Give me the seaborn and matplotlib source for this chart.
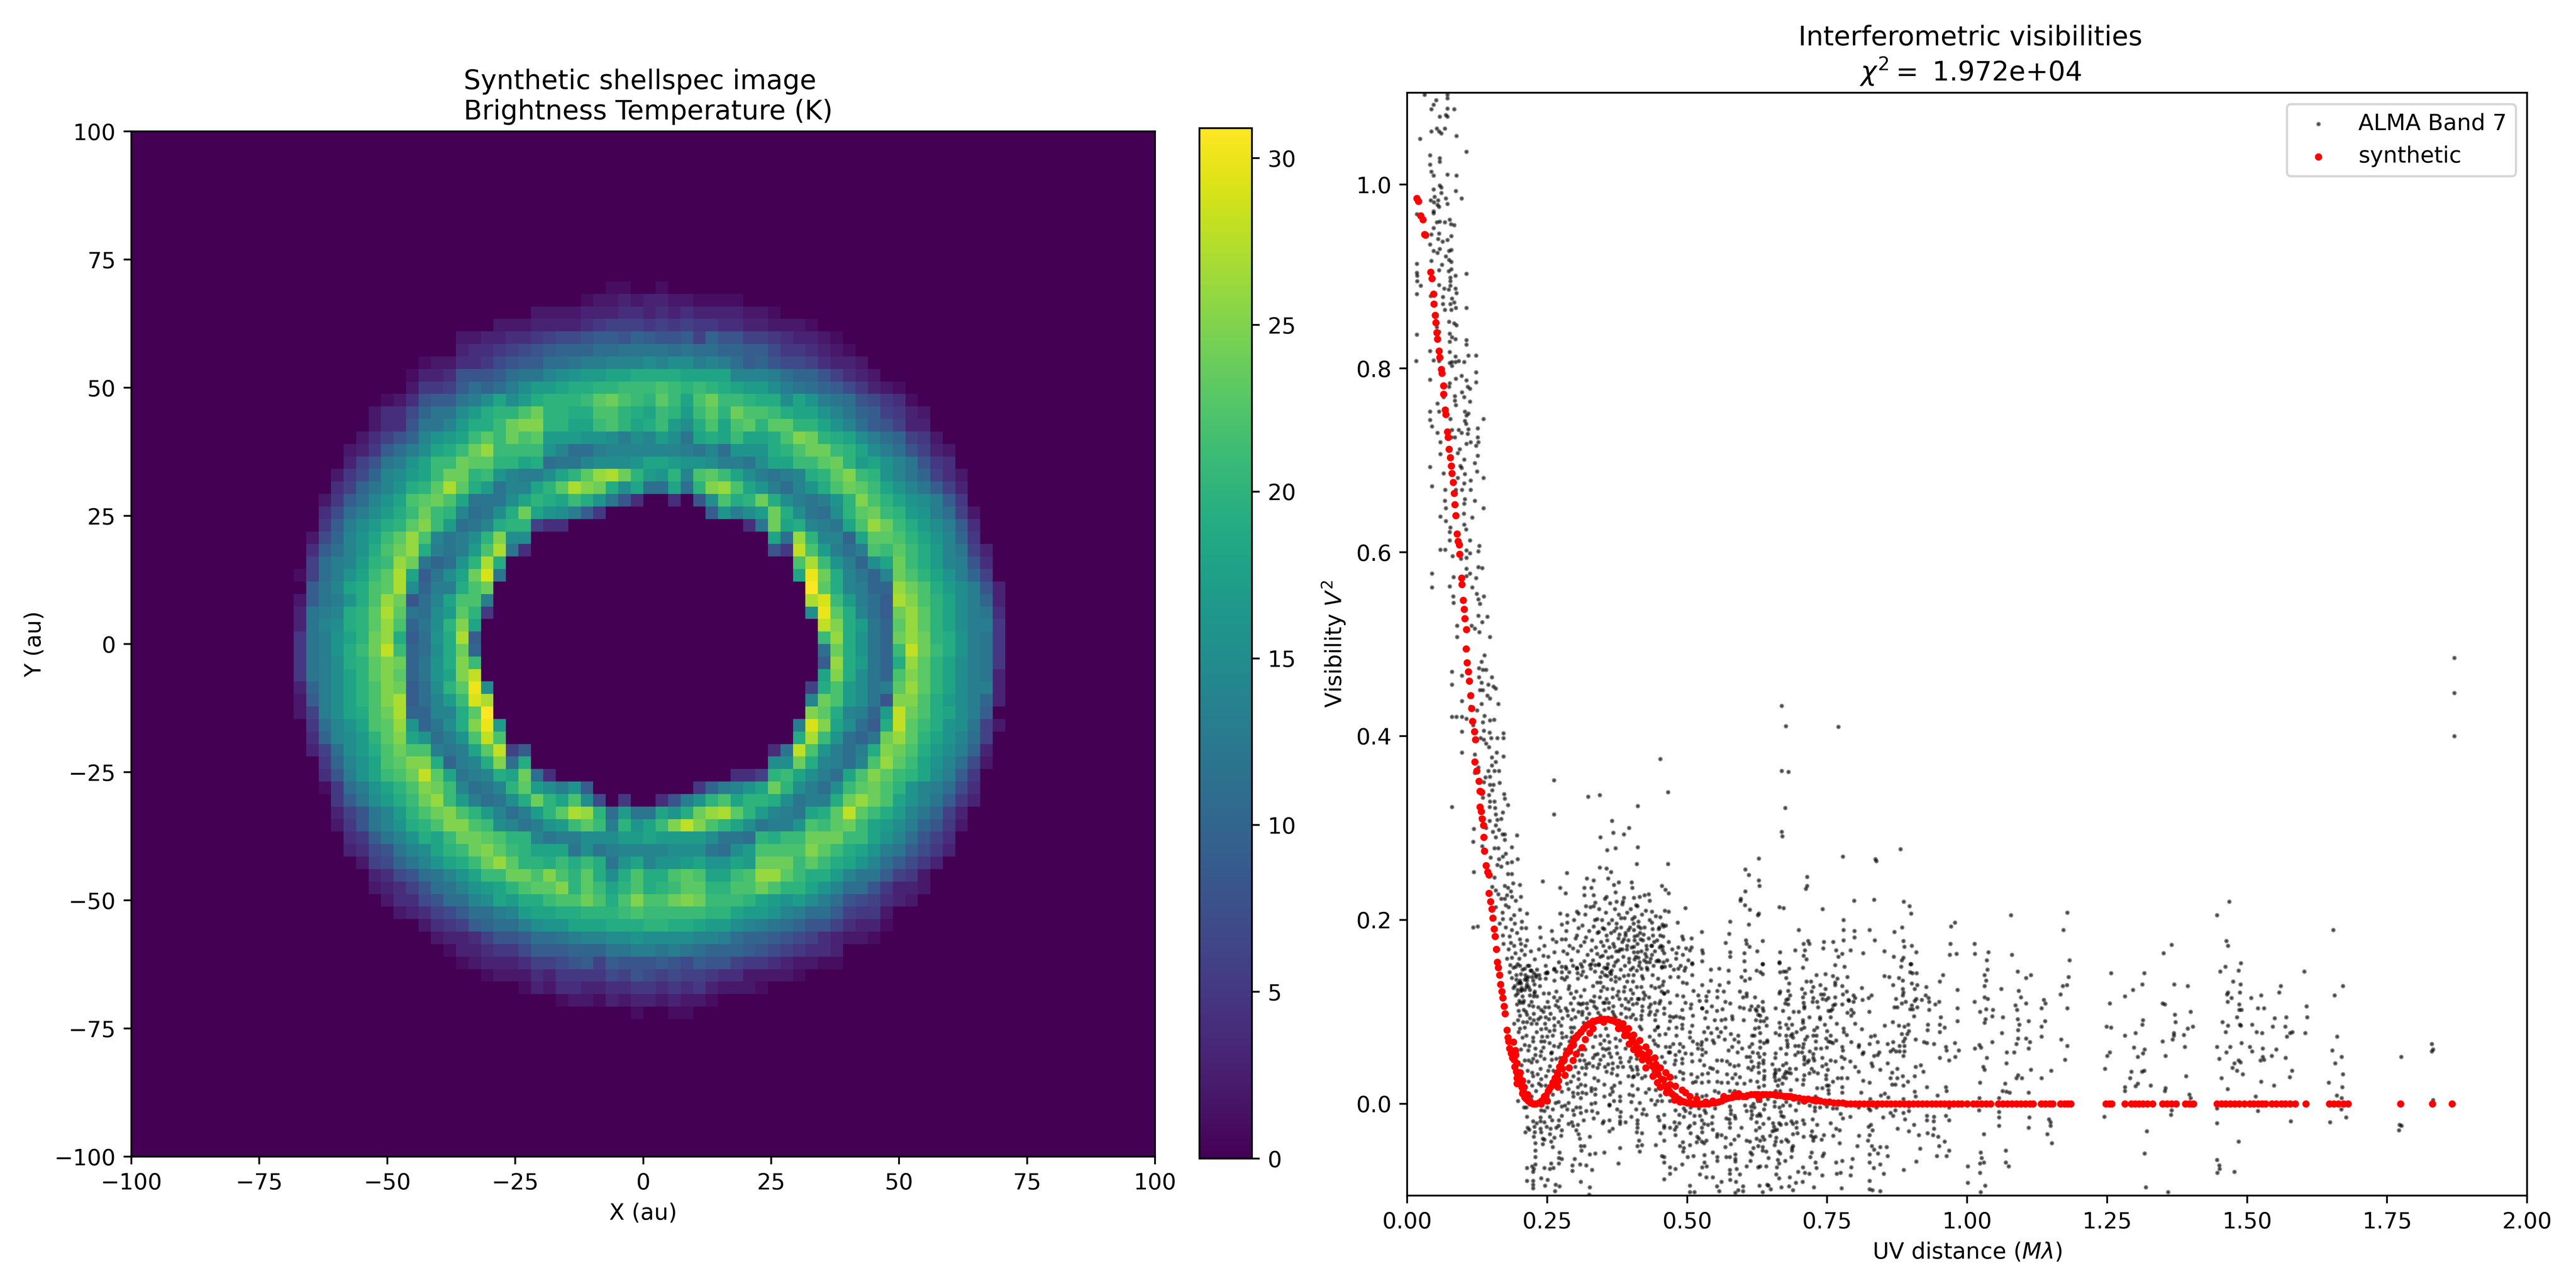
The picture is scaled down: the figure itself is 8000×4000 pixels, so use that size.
import matplotlib
matplotlib.use("Agg")
import matplotlib.pyplot as plt
import numpy as np
import seaborn as sns

# brightness temperature: (row from top, first column, values)
# the grid is 82 x 82 cells, everything not listed is 0
tb_segments = [
    (12, 38, [1, 1, 0, 0, 1]),
    (13, 36, [1, 2, 2, 3, 2, 3, 3, 2, 2, 1, 1, 1, 1]),
    (14, 32, [2, 2, 2, 2, 3, 3, 3, 4, 4, 3, 4, 3, 4, 3, 3, 3, 3, 2, 2, 1]),
    (15, 29, [2, 2, 2, 3, 3, 3, 3, 4, 5, 6, 6, 6, 5, 6, 5, 6, 5, 5, 4, 4, 3, 3, 2, 2, 2, 1]),
    (16, 26, [2, 2, 3, 3, 4, 4, 5, 6, 7, 7, 8, 9, 9, 8, 10, 9, 8, 8, 9, 6, 10, 8, 8, 6, 6, 5, 4, 3, 3, 2, 1]),
    (17, 26, [3, 4, 4, 5, 6, 7, 8, 9, 10, 10, 10, 11, 11, 12, 12, 12, 12, 11, 12, 11, 11, 10, 10, 9, 9, 7, 5, 5, 4, 3, 2, 1]),
    (18, 23, [1, 2, 2, 4, 4, 5, 7, 8, 9, 9, 11, 11, 12, 13, 13, 14, 14, 14, 15, 14, 15, 15, 13, 14, 13, 11, 9, 10, 8, 7, 7, 6, 4, 3, 3, 2]),
    (19, 22, [1, 3, 3, 4, 8, 8, 8, 9, 11, 12, 12, 14, 15, 16, 17, 17, 18, 18, 19, 19, 19, 19, 18, 18, 18, 18, 14, 14, 14, 13, 11, 10, 10, 8, 6, 4, 3, 2]),
    (20, 22, [2, 5, 5, 6, 9, 11, 10, 11, 13, 15, 17, 17, 18, 19, 19, 20, 20, 21, 21, 21, 22, 21, 20, 21, 20, 19, 18, 17, 17, 15, 13, 12, 11, 10, 9, 7, 5, 3, 2, 1]),
    (21, 20, [1, 2, 4, 8, 9, 9, 12, 13, 15, 18, 15, 17, 19, 20, 20, 20, 21, 23, 24, 22, 21, 20, 23, 21, 18, 22, 24, 21, 21, 20, 19, 19, 15, 18, 16, 13, 12, 11, 8, 7, 5, 4, 1]),
    (22, 19, [2, 4, 4, 7, 10, 12, 12, 15, 17, 19, 20, 20, 22, 24, 20, 20, 19, 19, 22, 22, 20, 19, 18, 21, 20, 17, 21, 23, 20, 24, 22, 22, 21, 19, 18, 18, 16, 14, 12, 10, 9, 6, 5, 3, 2]),
    (23, 19, [2, 4, 4, 8, 12, 12, 14, 17, 19, 19, 21, 24, 25, 25, 20, 20, 18, 18, 21, 22, 20, 18, 19, 21, 17, 15, 19, 22, 18, 22, 23, 20, 23, 23, 20, 20, 18, 16, 14, 11, 9, 8, 6, 3, 3]),
    (24, 18, [2, 4, 6, 8, 10, 14, 16, 17, 18, 21, 23, 21, 24, 22, 23, 17, 17, 17, 16, 16, 15, 13, 15, 14, 17, 15, 12, 18, 19, 18, 21, 18, 18, 19, 22, 25, 24, 20, 19, 18, 15, 13, 11, 10, 6, 5, 2]),
    (25, 17, [2, 3, 5, 9, 11, 13, 15, 18, 19, 21, 24, 26, 21, 21, 21, 21, 16, 14, 11, 11, 13, 14, 14, 14, 14, 14, 14, 13, 12, 14, 11, 16, 16, 16, 19, 20, 22, 24, 24, 21, 20, 18, 15, 13, 11, 8, 6, 3, 2]),
    (26, 17, [3, 6, 8, 12, 13, 16, 18, 21, 21, 24, 23, 23, 20, 20, 18, 19, 11, 12, 12, 14, 15, 15, 15, 16, 18, 18, 17, 16, 16, 15, 13, 13, 12, 15, 18, 18, 21, 21, 23, 24, 20, 17, 18, 16, 14, 12, 8, 5, 4]),
    (27, 16, [2, 5, 7, 10, 14, 15, 17, 18, 21, 24, 24, 20, 21, 16, 14, 13, 13, 15, 18, 20, 23, 26, 27, 24, 20, 17, 16, 20, 14, 22, 23, 21, 18, 15, 13, 12, 13, 14, 19, 20, 23, 25, 21, 20, 16, 14, 12, 10, 6, 4, 2]),
    (28, 16, [4, 6, 10, 12, 14, 16, 19, 20, 23, 27, 23, 19, 17, 12, 14, 14, 18, 20, 23, 27, 25, 24, 19, 15, 18, 11, 11, 18, 11, 20, 25, 26, 22, 18, 16, 13, 11, 14, 16, 19, 22, 24, 23, 21, 18, 16, 14, 12, 9, 6, 3]),
    (29, 15, [2, 5, 9, 11, 14, 16, 18, 22, 23, 24, 22, 18, 12, 12, 12, 15, 18, 20, 19, 18, 21, 19, 16, 12, 8, 4]),
    (29, 43, [4, 0, 8, 15, 22, 19, 20, 24, 19, 15, 13, 12, 13, 16, 20, 25, 22, 20, 18, 16, 15, 13, 9, 5]),
    (30, 15, [4, 7, 11, 13, 15, 17, 19, 21, 24, 21, 20, 14, 11, 12, 15, 19, 24, 18, 16, 15, 13, 9, 5]),
    (30, 46, [9, 16, 13, 15, 17, 24, 19, 15, 12, 11, 15, 20, 23, 24, 21, 20, 17, 16, 13, 11, 6, 2]),
    (31, 15, [5, 9, 13, 15, 17, 19, 20, 23, 25, 21, 17, 11, 12, 14, 19, 20, 20, 6, 4, 4]),
    (31, 49, [4, 12, 24, 18, 19, 14, 13, 12, 18, 22, 26, 24, 21, 19, 17, 15, 13, 9, 4]),
    (32, 14, [2, 7, 10, 14, 16, 18, 21, 23, 26, 22, 14, 12, 13, 15, 20, 25, 15, 15]),
    (32, 51, [18, 11, 26, 20, 14, 14, 10, 18, 23, 23, 22, 20, 18, 16, 14, 10, 5]),
    (33, 14, [4, 9, 11, 14, 16, 19, 22, 24, 26, 19, 13, 12, 13, 17, 22, 27, 12, 4]),
    (33, 51, [8, 5, 28, 22, 17, 13, 11, 13, 22, 21, 23, 21, 19, 17, 14, 12, 6, 3]),
    (34, 14, [6, 11, 13, 14, 17, 20, 21, 26, 24, 12, 10, 11, 16, 20, 27, 19]),
    (34, 53, [22, 27, 21, 16, 13, 10, 15, 18, 24, 21, 19, 17, 14, 13, 8, 4]),
    (35, 13, [1, 6, 11, 13, 16, 18, 21, 23, 27, 18, 9, 12, 15, 18, 24, 29, 12]),
    (35, 53, [18, 30, 24, 19, 14, 12, 10, 14, 24, 22, 20, 18, 16, 13, 10, 6]),
    (36, 14, [9, 12, 14, 18, 19, 22, 23, 27, 15, 10, 13, 13, 19, 22, 24]),
    (36, 54, [31, 23, 19, 14, 13, 10, 10, 26, 24, 22, 19, 17, 15, 13, 8, 3]),
    (37, 13, [2, 9, 12, 13, 16, 19, 22, 26, 24, 8, 11, 14, 18, 22, 22, 13]),
    (37, 54, [27, 29, 21, 17, 13, 11, 9, 27, 25, 22, 20, 18, 15, 13, 10, 3]),
    (38, 13, [3, 12, 13, 14, 19, 20, 23, 27, 23, 12, 11, 15, 17, 23, 20, 5]),
    (38, 54, [15, 30, 23, 19, 14, 11, 9, 24, 26, 23, 20, 18, 15, 13, 12, 4]),
    (39, 13, [3, 12, 14, 15, 19, 20, 23, 26, 22, 10, 12, 15, 20, 25, 18]),
    (39, 55, [28, 25, 19, 17, 12, 10, 23, 26, 23, 20, 18, 15, 13, 13, 5]),
    (40, 13, [5, 12, 13, 16, 18, 20, 24, 26, 19, 9, 11, 16, 19, 27, 9]),
    (40, 55, [21, 26, 19, 16, 12, 10, 24, 26, 24, 20, 19, 16, 13, 12, 5]),
    (41, 13, [5, 12, 13, 16, 19, 21, 24, 28, 21, 10, 11, 15, 19, 24, 10]),
    (41, 55, [11, 24, 19, 16, 12, 10, 21, 28, 24, 21, 19, 16, 13, 12, 5]),
    (42, 13, [5, 12, 13, 15, 19, 20, 23, 25, 24, 10, 12, 16, 19, 25, 21]),
    (42, 55, [9, 26, 19, 17, 12, 10, 19, 26, 23, 20, 18, 15, 13, 12, 5]),
    (43, 13, [5, 12, 13, 15, 18, 20, 23, 25, 23, 10, 12, 16, 18, 25, 28]),
    (43, 55, [18, 25, 19, 15, 12, 10, 22, 25, 23, 20, 18, 15, 13, 12, 3]),
    (44, 13, [3, 10, 13, 15, 18, 20, 22, 25, 24, 9, 11, 15, 20, 23, 30, 15]),
    (44, 54, [6, 19, 22, 17, 15, 12, 13, 23, 26, 23, 20, 18, 15, 13, 13, 3]),
    (45, 13, [2, 9, 13, 15, 18, 20, 22, 25, 27, 9, 11, 14, 17, 21, 29, 27]),
    (45, 54, [14, 24, 22, 17, 15, 12, 8, 25, 25, 22, 19, 17, 15, 13, 10, 3]),
    (46, 13, [2, 6, 13, 15, 18, 19, 22, 24, 27, 10, 10, 14, 14, 19, 23, 31]),
    (46, 54, [25, 23, 19, 14, 13, 10, 17, 28, 24, 22, 19, 18, 15, 13, 9]),
    (47, 14, [5, 11, 14, 16, 18, 22, 23, 26, 16, 10, 12, 15, 19, 25, 30, 17]),
    (47, 53, [13, 29, 25, 18, 15, 11, 9, 19, 28, 23, 21, 19, 16, 15, 12, 6, 2]),
    (48, 14, [4, 10, 14, 15, 17, 20, 23, 25, 18, 16, 11, 13, 16, 22, 28, 22]),
    (48, 53, [19, 27, 21, 16, 11, 10, 12, 24, 26, 23, 20, 18, 16, 14, 11, 6]),
    (49, 14, [3, 6, 11, 15, 17, 19, 22, 24, 22, 22, 13, 12, 13, 18, 23, 28, 6, 9]),
    (49, 51, [4, 12, 28, 22, 16, 13, 11, 13, 19, 25, 24, 22, 19, 17, 15, 13, 10, 3]),
    (50, 15, [5, 10, 14, 16, 18, 22, 23, 25, 25, 19, 10, 13, 14, 19, 25, 11, 19]),
    (50, 51, [15, 15, 24, 19, 14, 13, 11, 14, 22, 26, 23, 21, 18, 16, 14, 11, 7, 2]),
    (51, 15, [4, 8, 13, 16, 18, 21, 22, 24, 28, 23, 18, 12, 13, 14, 19, 18, 24, 11, 4]),
    (51, 48, [4, 4, 6, 20, 21, 18, 15, 13, 11, 18, 22, 25, 23, 21, 20, 18, 15, 13, 9, 5]),
    (52, 15, [1, 5, 11, 13, 16, 18, 20, 22, 25, 24, 21, 14, 11, 12, 14, 20, 23, 17, 15, 13, 16, 9]),
    (52, 45, [5, 10, 13, 14, 16, 18, 24, 20, 15, 13, 11, 15, 21, 23, 24, 22, 20, 16, 14, 13, 11, 7, 4]),
    (53, 16, [5, 9, 12, 15, 17, 19, 21, 24, 26, 21, 17, 13, 11, 12, 15, 19, 24, 20, 18, 22, 15, 7, 0, 5]),
    (53, 42, [4, 8, 13, 16, 20, 22, 18, 20, 20, 19, 15, 12, 13, 13, 19, 24, 26, 24, 22, 18, 16, 14, 12, 9, 5, 3]),
    (54, 16, [3, 6, 8, 12, 14, 17, 20, 22, 24, 25, 22, 20, 17, 14, 11, 13, 17, 20, 23, 27, 26, 20, 11, 17, 12, 12, 18, 16, 19, 24, 26, 27, 23, 20, 17, 14, 13, 12, 18, 19, 23, 28, 23, 21, 19, 17, 14, 12, 10, 6, 3]),
    (55, 16, [2, 5, 8, 12, 14, 16, 19, 20, 22, 25, 25, 22, 21, 15, 14, 12, 13, 16, 17, 21, 23, 21, 13, 20, 16, 18, 21, 25, 28, 25, 22, 20, 18, 15, 12, 13, 13, 16, 22, 21, 23, 24, 21, 18, 17, 15, 13, 10, 8, 5, 2]),
    (56, 17, [4, 5, 9, 12, 14, 16, 19, 18, 21, 24, 24, 23, 22, 20, 20, 14, 12, 13, 13, 15, 15, 15, 17, 17, 18, 17, 17, 17, 17, 15, 12, 12, 11, 20, 19, 21, 21, 24, 24, 24, 21, 21, 18, 16, 14, 11, 8, 6, 4]),
    (57, 17, [3, 4, 7, 8, 12, 14, 15, 18, 20, 21, 24, 25, 23, 21, 20, 18, 18, 18, 12, 15, 12, 13, 14, 14, 14, 14, 15, 15, 15, 12, 11, 15, 17, 22, 22, 22, 22, 25, 23, 21, 19, 18, 16, 13, 12, 9, 7, 5, 3]),
    (58, 18, [2, 6, 7, 10, 12, 14, 16, 18, 19, 21, 24, 26, 23, 20, 20, 19, 21, 19, 21, 19, 12, 16, 18, 14, 16, 16, 17, 18, 16, 16, 18, 17, 24, 24, 24, 21, 23, 21, 19, 18, 16, 14, 11, 9, 7, 5, 3]),
    (59, 19, [3, 4, 7, 8, 11, 12, 14, 16, 18, 21, 21, 24, 24, 22, 25, 22, 20, 23, 19, 15, 19, 22, 19, 19, 22, 23, 22, 18, 18, 21, 22, 26, 26, 23, 21, 19, 19, 17, 14, 12, 12, 9, 6, 5, 2]),
    (60, 19, [2, 3, 4, 6, 8, 11, 12, 14, 16, 17, 18, 20, 22, 23, 23, 25, 20, 23, 21, 18, 20, 22, 19, 20, 21, 23, 23, 20, 20, 22, 22, 24, 22, 20, 20, 18, 16, 14, 11, 11, 8, 5, 3, 3, 2]),
    (61, 20, [2, 4, 4, 7, 8, 11, 11, 14, 15, 18, 17, 19, 19, 21, 22, 22, 24, 22, 19, 22, 25, 22, 22, 24, 25, 24, 21, 21, 21, 20, 18, 17, 16, 17, 15, 13, 11, 8, 7, 6, 4, 3, 2]),
    (62, 21, [2, 3, 4, 6, 7, 9, 11, 11, 13, 14, 17, 18, 18, 19, 19, 20, 20, 20, 21, 22, 21, 21, 21, 21, 21, 20, 20, 18, 17, 17, 16, 14, 13, 11, 11, 9, 6, 5, 5, 2]),
    (63, 23, [2, 4, 5, 6, 9, 10, 11, 11, 13, 15, 16, 16, 18, 18, 18, 19, 19, 19, 20, 20, 19, 19, 18, 17, 17, 15, 14, 13, 12, 11, 10, 8, 8, 6, 4, 3, 3, 1]),
    (64, 24, [2, 3, 3, 4, 6, 8, 8, 9, 11, 11, 12, 13, 14, 14, 15, 15, 16, 15, 15, 15, 15, 14, 14, 13, 11, 10, 10, 9, 8, 7, 6, 4, 3, 2, 2, 1]),
    (65, 25, [1, 3, 3, 4, 5, 5, 7, 9, 9, 9, 10, 10, 10, 12, 12, 13, 13, 12, 13, 12, 11, 10, 10, 10, 9, 8, 7, 6, 5, 4, 4, 3]),
    (66, 26, [1, 2, 3, 3, 3, 4, 6, 6, 7, 8, 9, 6, 9, 8, 8, 8, 9, 8, 7, 9, 8, 8, 6, 5, 5, 4, 3, 2, 2, 1, 1]),
    (67, 28, [1, 2, 2, 2, 4, 3, 5, 5, 5, 5, 7, 6, 8, 7, 6, 7, 6, 6, 5, 4, 4, 2, 2, 2, 2, 1]),
    (68, 31, [1, 3, 2, 4, 4, 3, 3, 4, 4, 5, 5, 4, 5, 4, 5, 3, 2, 2, 2, 1]),
    (69, 34, [1, 2, 2, 1, 3, 2, 3, 3, 2, 3, 2, 2, 1]),
    (70, 40, [1, 0, 0, 1, 1]),
]

# ALMA Band 7 points, uv distance and V^2 both in units of 1e-3, pairs one after another
alma_steep = [
    31,1098, 72,1098, 52,1092, 72,1094, 47,1087, 43,1082, 72,1083, 84,1082, 58,1074, 69,1076, 72,1074, 43,1058,
    53,1061, 57,1058, 61,1056, 67,1061, 88,1053, 23,1050, 106,1036, 41,1032, 58,1029, 58,1025, 41,1022, 43,1014,
    47,1010, 72,1011, 88,1010, 47,995, 58,999, 61,997, 87,993, 61,991, 49,987, 69,985, 97,985, 42,983, 48,981,
    55,983, 54,978, 57,976, 72,979, 47,971, 17,968, 47,969, 58,960, 53,959, 67,959, 76,962, 78,957, 84,956,
    47,953, 79,944, 57,947, 43,946, 55,941, 41,935, 63,938, 72,940, 58,930, 47,928, 54,926, 75,928, 79,929,
    43,917, 69,922, 75,918, 79,916, 62,913, 79,908, 17,914, 17,904, 18,901, 57,907, 74,906, 86,901, 106,903,
    77,899, 77,895, 18,895, 24,890, 77,890, 57,891, 66,887, 74,886, 86,887, 17,881, 42,879, 88,882, 64,878,
    80,876, 84,872, 87,866, 106,866, 64,870, 67,864, 77,870, 79,864, 51,852, 75,851, 84,849, 88,847, 53,845,
    76,838, 17,837, 57,840, 80,834, 86,832, 76,829, 106,831, 106,826, 41,819, 56,819, 76,818, 109,814, 123,814,
    86,813, 16,808, 47,809, 57,808, 76,806, 86,807, 80,807, 92,808, 102,807, 80,803, 123,796, 87,789, 97,792,
    106,787, 41,788, 123,785, 76,784, 108,780, 112,778, 75,780, 98,774, 65,769, 85,770, 102,769, 54,762, 112,764,
    85,765, 87,760, 41,753, 57,753, 103,753, 109,751, 106,749, 136,745, 41,744, 77,745, 103,743, 105,740, 44,737,
    126,735, 92,733, 109,734, 80,733, 54,730, 97,730, 108,729, 126,725, 59,720, 127,720, 106,718, 113,720, 79,725,
    123,716, 85,725, 59,707, 94,712, 90,708, 126,705, 102,701, 41,693, 121,697, 65,686, 95,694, 97,692, 125,688,
    136,681, 90,681, 103,685, 113,678, 44,672, 102,675, 68,668, 113,668, 98,668, 87,668, 121,656, 103,658, 67,656,
    136,648, 69,648, 102,653, 101,642, 59,639, 116,638, 69,634, 77,627, 102,630, 105,625, 76,622, 112,613, 76,613,
    129,607, 59,603, 68,603, 106,602, 127,601, 112,599, 81,596, 96,593, 106,594, 127,584, 134,583, 106,582, 44,577,
    106,574, 123,572, 112,577, 83,573, 44,562, 76,563, 116,562, 124,555, 137,552, 82,552, 130,544, 127,549, 83,545,
    143,530, 127,531, 134,524, 89,520, 89,508, 148,508, 129,513, 115,520, 121,517, 80,470, 98,466, 133,481, 135,472,
    128,474, 141,472, 80,456, 133,458, 154,454, 145,456, 158,452, 135,450, 130,450, 148,441, 163,435, 98,438, 113,432,
    133,435, 80,421, 88,421, 98,421, 106,419, 135,415, 148,417, 118,412, 98,405, 137,406, 147,404, 172,403, 172,398,
    161,398, 150,398, 141,392, 137,396, 98,382, 121,380, 151,377, 172,378, 158,372, 151,368, 145,362, 121,360, 156,362,
    164,362, 148,356, 137,350, 154,347, 148,347, 173,337, 174,332, 148,329, 156,329, 180,325, 147,323, 80,323, 171,317,
    158,315, 147,308, 161,309, 131,311, 119,299, 158,303, 170,293, 174,293, 196,292, 158,290, 118,285, 174,287, 187,279,
    156,278, 171,269, 164,266, 197,266, 187,263, 179,262, 161,260, 119,252, 187,250, 201,238, 174,237, 178,227, 174,223,
    187,225, 203,225, 180,235, 158,232, 168,223, 214,207, 201,211, 191,205, 185,201, 171,201, 118,192, 126,193, 204,191,
    212,191, 237,192, 187,189, 171,183, 238,181, 201,179, 185,175, 191,172, 211,172, 204,167, 187,159, 184,151, 197,152,
    220,145, 211,140, 230,140, 187,137, 201,132, 214,130, 204,126, 197,120, 227,120, 214,134,
]

alma_upper = [
    669,433, 676,411, 770,410, 452,375, 466,339, 669,362, 681,361, 412,324, 675,322, 669,296, 670,291, 366,308,
    368,295, 387,293, 396,300, 372,278, 412,279, 410,261, 466,261, 628,267, 604,255, 610,249, 628,243, 629,237,
    604,231, 596,223, 595,221, 603,216, 612,211, 628,207, 626,205, 778,269, 714,247, 714,237, 712,234, 836,266,
    838,264, 881,277, 798,221, 834,222, 887,220, 897,215, 900,207, 665,214, 672,213, 742,212, 497,213, 577,198,
    610,195, 779,200, 483,197, 526,187, 699,189, 779,189, 799,188, 826,189, 870,187, 884,192, 799,181, 575,185,
    508,180, 491,182, 493,179, 605,178, 635,177, 716,177, 744,176, 761,176, 779,178, 835,178, 886,177, 569,175,
    606,174, 611,171, 708,174, 718,174, 888,171, 901,172, 743,169, 498,169, 505,167, 527,167, 528,164, 481,164,
    577,165, 577,160, 602,164, 625,166, 666,165, 693,167, 710,167, 766,167, 792,167, 814,164, 852,166, 909,165,
    777,163, 770,160, 708,161, 713,157, 869,160, 886,159, 883,156, 527,155, 509,153, 602,155, 635,152, 665,154,
    900,152, 401,241, 402,235, 378,241, 369,238, 455,237, 461,233, 467,229, 431,228, 424,227, 415,225, 405,224,
    387,224, 433,221, 411,215, 372,230, 374,220, 384,217, 437,209, 460,210, 467,209, 452,203, 406,203, 402,201,
    382,202, 437,197, 456,195, 458,193, 413,193, 417,191, 449,190, 405,189, 395,189, 374,191, 422,184, 439,183,
    452,183, 411,183, 390,183, 379,184, 441,176, 417,179, 406,178, 387,179, 427,172, 437,172, 456,171, 451,170,
    405,171, 393,172, 370,171, 456,167, 384,168, 378,166, 437,162, 425,163, 412,165, 405,165, 427,160, 413,159,
    406,157, 445,155, 450,155, 458,154, 427,154, 433,154, 396,154, 372,154, 415,154, 262,352, 262,315, 285,251,
    323,334, 344,336, 345,290, 357,276, 242,242, 321,245, 333,243, 344,257, 356,256, 359,245, 364,252, 273,235,
    283,229, 316,235, 329,235, 316,227, 333,227, 353,223, 273,207, 286,205, 303,209, 306,207, 319,215, 336,219,
    356,225, 333,215, 339,201, 349,191, 286,197, 276,195, 306,191, 276,179, 283,179, 303,183, 319,181, 333,193,
    342,187, 356,183, 260,179, 296,169, 286,163, 310,172, 329,167, 339,163, 349,161, 359,159, 263,165, 243,161,
    283,149, 303,147, 316,155, 326,151, 342,152, 356,147, 362,143, 263,147, 250,143,
]

# uv 0.19 to 0.61 below V^2 = 0.15
alma_low_a = [
    194,149, 201,150, 215,150, 210,147, 222,145, 203,141, 226,142, 236,140, 230,138, 223,138, 213,137, 210,135, 195,135,
    201,134, 237,136, 247,136, 247,142, 250,142, 263,134, 262,146, 266,144, 276,149, 276,143, 284,147, 276,137, 281,135,
    285,138, 289,143, 296,150, 304,142, 303,148, 312,149, 314,144, 311,140, 305,136, 320,138, 329,152, 328,147, 336,151,
    342,151, 335,144, 348,143, 357,148, 365,145, 364,141, 357,139, 345,138, 353,140, 372,138, 379,136, 387,139, 364,135,
    372,133, 393,133, 403,133, 395,140, 404,140, 410,145, 399,146, 418,147, 428,148, 438,140, 421,136, 419,139, 448,136,
    458,133, 460,149, 455,149, 470,138, 484,138, 484,147, 495,145, 509,152, 509,140, 492,132, 499,131, 527,129, 542,146,
    557,147, 574,145, 542,134, 558,129, 574,132, 597,138, 603,145, 603,134, 227,130, 203,131, 198,131, 213,127, 217,127,
    190,126, 197,124, 203,123, 210,124, 228,122, 244,120, 253,120, 266,122, 289,128, 288,125, 316,124, 302,122, 332,128,
    339,132, 345,132, 346,123, 350,127, 357,125, 367,125, 388,127, 410,127, 418,127, 377,122, 387,122, 399,124, 403,120,
    422,121, 436,128, 443,126, 450,127, 456,129, 454,122, 459,120, 511,123, 538,122, 554,123, 565,122, 594,122, 606,120,
    194,118, 206,117, 219,118, 226,117, 232,117, 262,116, 273,115, 292,120, 298,115, 310,117, 334,117, 344,116, 356,114,
    367,116, 379,114, 390,114, 412,114, 422,114, 432,116, 459,120, 482,118, 493,117, 520,118, 534,117, 554,116, 600,116,
    606,117, 202,110, 207,110, 222,111, 218,107, 251,111, 234,105, 246,105, 253,105, 265,107, 270,105, 292,109, 306,109,
    314,109, 321,109, 333,111, 334,106, 353,110, 360,110, 368,106, 383,107, 395,111, 403,108, 410,109, 414,114, 420,106,
    432,105, 442,110, 450,109, 459,104, 469,110, 497,110, 507,108, 506,104, 534,112, 544,106, 568,111, 577,109, 527,104,
    594,105, 601,104, 199,101, 208,102, 239,102, 243,100, 274,101, 286,101, 296,102, 306,100, 321,104, 313,100, 352,102,
    341,99, 367,100, 396,103, 403,97, 420,101, 434,100, 443,97, 446,101, 459,98, 491,102, 527,104, 535,100, 553,101,
    563,103, 201,96, 214,97, 226,98, 198,91, 219,93, 226,91, 234,92, 247,94, 253,92, 262,93, 270,89, 277,93, 287,96,
    293,92, 312,97, 321,93, 369,97, 372,94, 391,94, 399,94, 418,96, 418,92, 432,97, 443,91, 469,95, 480,95, 487,94,
    493,93, 469,90, 532,93, 549,91, 561,91, 568,92, 580,95, 581,92, 601,91, 191,87, 207,89, 214,89, 222,87, 231,87,
    246,87, 210,83, 201,82, 239,81, 254,79, 263,85, 263,80, 276,77, 292,83, 298,83, 294,78, 199,78, 213,74, 231,78,
    225,72, 241,73, 250,73, 260,74, 284,73, 277,72, 293,72, 418,81, 433,73, 442,80, 447,83, 461,76, 450,75, 467,82,
    481,83, 491,82, 509,85, 505,78, 481,74, 491,86, 530,78, 537,83, 553,82, 560,78, 568,83, 543,77, 578,76, 591,74,
    556,73, 505,72, 534,70, 546,69, 567,70, 584,70, 592,67, 510,68, 518,65, 526,67, 548,66, 225,68, 239,68, 254,66,
    274,65, 210,64, 218,63, 262,63, 336,73, 345,74, 352,69, 361,67, 345,65, 372,71, 380,69, 358,74, 440,69, 448,63,
    443,65, 462,62, 469,62, 475,65, 487,65, 493,62, 525,64, 527,59, 533,56, 519,60, 574,58, 580,62, 590,56, 598,60,
    203,59, 229,60, 239,57, 243,61, 258,56, 282,59, 318,59, 349,60, 355,59, 373,62, 469,56, 486,57, 497,55, 508,54,
    195,52, 229,53, 238,52, 245,49, 222,45, 210,47, 217,47, 225,49, 266,49, 257,55, 273,50, 312,53, 308,47, 316,47,
    320,43, 312,39, 320,39, 306,34, 332,50, 340,54, 335,53, 351,52, 364,51, 361,55, 375,55, 380,50, 381,45, 367,44,
    359,43, 353,40, 343,43, 332,41, 340,39, 356,35, 367,38, 376,40, 385,40, 396,46, 399,50, 410,49, 410,40, 399,40,
    402,37, 411,37, 365,33, 375,31, 395,30, 403,29, 412,32, 419,28, 455,51, 460,45, 467,56, 477,43, 479,53, 491,49,
    491,44, 479,47, 487,35, 493,33, 493,27, 479,29, 507,32, 509,46, 523,47, 527,53, 530,42, 541,39, 546,38, 554,35,
    553,47, 562,47, 571,46, 576,43, 584,41, 592,42, 606,51, 527,32, 518,29, 537,33, 571,32, 586,32, 594,29, 581,28,
    538,24, 554,24, 561,23, 573,23, 589,22, 602,22, 510,23, 515,24, 526,23, 198,36, 238,38, 255,41, 261,36, 223,34,
    233,32, 225,30, 239,27, 261,26, 217,24, 297,30, 292,24, 306,27, 310,21, 318,20, 334,28, 341,25, 352,21, 380,23,
    223,20, 230,14, 239,20, 247,20, 276,13, 288,16, 296,12, 305,11, 313,12, 320,11, 297,8, 310,6, 329,17, 336,16, 329,14,
    336,10, 365,17, 367,13, 362,10, 380,8, 397,10, 403,9, 402,20, 412,16, 426,12, 432,16, 444,15, 452,9, 380,3, 369,3,
    361,-1, 329,0, 336,1, 415,1, 443,-1, 469,3, 447,3, 455,3, 506,8, 517,10, 527,8, 534,9, 549,14, 556,12, 576,14, 585,14,
    198,3, 209,-4, 213,-4, 239,-7, 245,-8, 250,-4, 260,-6, 265,1, 276,-3, 286,-6, 296,-7, 302,-4, 309,-4, 288,1, 310,-10,
    330,-8, 361,-2, 375,-6, 381,-9, 380,-14, 409,-6, 422,-6, 420,-11, 427,-12, 479,-7, 494,-5, 497,-8, 505,-10, 506,-4,
    521,-5, 531,-7, 533,-10, 550,-5, 576,-3, 578,-7, 578,-11, 603,-2, 606,-8, 214,-14, 238,-15, 255,-14, 259,-18, 276,-13,
    271,-18, 225,-19, 231,-21, 238,-19, 245,-20, 294,-20, 288,-22, 305,-23, 296,-24, 215,-26, 227,-25, 218,-28, 211,-31,
    238,-27, 249,-25, 266,-26, 270,-24, 256,-27, 276,-29, 302,-29, 239,-31, 228,-31, 255,-33, 226,-36, 275,-35, 263,-37,
    306,-33, 308,-38, 242,-38, 245,-39, 257,-41, 229,-43, 242,-44, 260,-47, 326,-36, 310,-46, 316,-46, 311,-51, 229,-51,
    272,-53, 326,-55, 336,-54, 352,-53, 229,-58, 271,-59, 276,-60, 299,-60, 271,-65, 257,-65, 229,-66, 223,-68, 226,-71,
    214,-70, 245,-70, 255,-71, 261,-70, 295,-67, 309,-66, 320,-67, 295,-73, 330,-72, 377,-65, 225,-74, 239,-81, 251,-83,
    214,-84, 225,-84, 225,-88, 225,-92, 246,-89, 265,-88, 272,-90, 264,-95, 310,-85, 326,-91, 325,-99, 361,-18, 351,-19,
    349,-21, 333,-16, 380,-19, 380,-22, 367,-27, 361,-30, 400,-14, 411,-18, 411,-22, 411,-26, 410,-31, 419,-32, 414,-40,
    411,-46, 419,-45, 415,-52, 380,-48, 444,-45, 448,-14, 450,-18, 459,-12, 459,-26, 459,-24, 452,-32, 459,-40, 477,-20,
    469,-26, 478,-28, 481,-25, 486,-12, 494,-14, 486,-21, 479,-34, 505,-24, 502,-26, 506,-32, 513,-21, 513,-13, 523,-13,
    526,-18, 526,-26, 530,-22, 527,-31, 518,-36, 521,-38, 517,-42, 534,-40, 526,-41, 530,-43, 487,-46, 494,-48, 492,-42,
    505,-45, 493,-52, 501,-58, 511,-57, 531,-56, 546,-53, 537,-23, 544,-21, 546,-28, 545,-14, 554,-33, 561,-34, 553,-36,
    569,-37, 584,-39, 568,-47, 578,-44, 592,-35, 570,-16, 575,-17, 576,-21, 576,-26, 585,-13, 586,-16, 597,-26, 606,-40,
    554,-58, 554,-62, 570,-58, 576,-58, 586,-55, 586,-60, 586,-63, 459,-58, 455,-57, 459,-64, 469,-69, 479,-71, 491,-66,
    469,-76, 459,-82, 531,-64, 535,-68, 527,-69, 523,-77, 534,-80, 546,-80, 576,-72, 576,-76, 588,-71, 594,-77, 577,-83,
    587,-85, 561,-85, 505,-89, 505,-96, 513,-96, 553,-90, 557,-95, 586,-97, 591,-94, 600,-90, 600,-95, 606,-68,
]

# uv 0.61 to 0.94 below V^2 = 0.15
alma_low_b = [
    635,152, 665,153, 624,145, 631,143, 635,141, 666,143, 672,144, 677,144, 682,147, 707,148, 764,151, 781,149, 882,149,
    899,152, 898,143, 902,142, 910,142, 852,139, 861,138, 878,137, 885,134, 731,140, 747,141, 760,139, 768,136, 786,138,
    612,136, 677,137, 713,133, 721,133, 901,131, 911,129, 682,131, 738,129, 764,132, 764,129, 777,128, 868,129, 927,127,
    812,126, 705,125, 725,127, 747,125, 906,125, 885,125, 680,123, 666,122, 665,120, 722,122, 710,120, 785,122, 886,121,
    885,118, 684,118, 739,119, 744,119, 778,119, 797,118, 829,118, 926,118, 931,115, 621,116, 707,116, 725,115, 742,114,
    752,115, 764,116, 800,115, 824,115, 873,114, 909,114, 919,113, 680,114, 677,113, 748,113, 788,113, 635,111, 724,111,
    732,111, 789,112, 813,113, 797,111, 906,112, 932,111, 890,111, 708,110, 675,109, 680,108, 764,108, 777,108, 883,109,
    901,107, 709,106, 761,107, 627,106, 622,103, 615,106, 635,104, 658,104, 734,105, 709,104, 870,105, 875,105, 898,103,
    903,103, 911,105, 612,102, 636,101, 671,101, 624,101, 690,100, 699,100, 752,101, 756,101, 759,103, 793,102, 825,100,
    932,102, 627,97, 630,96, 786,99, 797,99, 793,96, 756,94, 905,95, 682,93, 718,94, 737,94, 737,92, 642,93, 623,91, 631,90,
    637,90, 707,91, 707,88, 665,88, 767,87, 800,87, 867,89, 642,85, 677,86, 687,86, 746,86, 878,85, 888,84, 895,86, 853,85,
    930,86, 621,82, 628,83, 666,83, 680,82, 709,83, 732,83, 704,81, 779,82, 812,81, 727,80, 929,80, 780,78, 750,79, 630,77,
    658,77, 665,75, 695,78, 688,76, 896,79, 893,76, 883,76, 677,74, 685,74, 616,74, 620,74, 725,74, 731,74, 756,74, 785,75,
    828,73, 835,74, 689,72, 714,73, 711,70, 748,71, 643,69, 889,71, 908,70, 630,68, 637,66, 643,67, 678,69, 730,68, 766,69,
    752,68, 756,67, 760,66, 793,67, 840,67, 868,67, 886,68, 923,67, 928,66, 616,65, 708,65, 679,65, 826,65, 858,65, 879,63,
    888,63, 807,64, 611,62, 679,62, 693,63, 699,63, 707,61, 777,62, 806,62, 630,61, 667,60, 730,60, 739,60, 749,61, 778,58,
    863,57, 868,59, 873,57, 879,57, 888,57, 617,56, 626,55, 658,55, 698,56, 705,56, 719,57, 638,54, 677,54, 693,53, 725,54,
    815,56, 813,54, 843,56, 840,53, 834,52, 886,52, 612,51, 629,51, 709,51, 725,50, 741,50, 776,51, 657,50, 781,49, 709,48,
    727,47, 717,47, 636,47, 615,46, 756,47, 765,46, 791,46, 715,45, 636,44, 628,44, 677,44, 709,43, 748,43, 829,44, 858,44,
    652,43, 671,42, 741,41, 831,41, 917,42, 908,40, 800,40, 627,40, 618,40, 615,37, 609,39, 657,37, 664,37, 694,38, 683,38,
    722,38, 777,39, 845,37, 875,38, 922,35, 751,37, 806,35, 866,34, 628,34, 638,36, 658,34, 676,35, 680,34, 685,33, 726,35,
    733,33, 718,33, 885,30, 906,30, 748,31, 656,32, 674,32, 709,31, 638,30, 656,29, 671,29, 676,28, 664,26, 637,27, 769,28,
    776,28, 786,28, 748,27, 863,28, 875,28, 696,26, 708,26, 658,25, 613,25, 625,24, 814,25, 760,24, 894,24, 670,22, 826,23,
    637,20, 662,20, 707,21, 866,21, 872,21, 886,20, 628,18, 749,20, 753,20, 928,18, 777,18, 732,17, 741,17, 752,15, 685,15,
    658,14, 666,14, 811,12, 906,13, 753,11, 777,12, 853,11, 846,9, 859,7, 908,8, 729,8, 644,5, 827,5, 886,5, 618,0, 626,3,
    631,3, 656,2, 677,2, 699,1, 614,-3, 620,-4, 639,-1, 656,-3, 665,-4, 671,-2, 684,-2, 719,-2, 728,-4, 737,-4, 749,-3,
    760,-5, 767,-5, 806,-4, 838,-4, 896,-3, 637,-6, 694,-7, 824,-5, 827,-7, 872,-7, 615,-8, 728,-8, 667,-9, 886,-10, 896,-8,
    863,-10, 774,-11, 616,-12, 629,-11, 631,-13, 625,-13, 668,-13, 672,-14, 791,-14, 850,-15, 868,-13, 928,-13, 614,-16,
    646,-16, 724,-17, 778,-16, 889,-17, 928,-18, 624,-20, 707,-18, 686,-19, 695,-20, 636,-22, 653,-21, 664,-21, 677,-22,
    689,-22, 709,-22, 756,-21, 667,-23, 732,-23, 828,-23, 905,-23, 824,-25, 655,-25, 695,-26, 629,-26, 766,-27, 876,-27,
    660,-28, 656,-29, 623,-29, 652,-30, 723,-30, 772,-29, 831,-29, 697,-32, 689,-33, 648,-35, 896,-30, 914,-34, 929,-32,
    744,-34, 826,-34, 721,-35, 729,-36, 708,-36, 725,-37, 761,-35, 807,-35, 635,-36, 659,-37, 624,-38, 630,-40, 638,-39,
    677,-39, 725,-40, 740,-39, 823,-40, 680,-41, 612,-41, 668,-41, 658,-41, 772,-43, 656,-45, 627,-46, 689,-46, 635,-47,
    687,-48, 618,-48, 804,-46, 830,-46, 845,-47, 856,-47, 916,-49, 834,-50, 635,-51, 663,-52, 687,-51, 641,-52, 722,-53,
    613,-53, 666,-54, 616,-55, 744,-54, 826,-55, 841,-54, 645,-59, 686,-58, 720,-58, 742,-57, 795,-60, 858,-57, 613,-62,
    662,-61, 675,-62, 777,-62, 909,-63, 664,-65, 729,-64, 766,-64, 826,-64, 641,-68, 630,-68, 627,-69, 660,-69, 707,-69,
    731,-70, 793,-69, 833,-70, 845,-66, 698,-74, 710,-75, 718,-76, 741,-78, 767,-76, 774,-75, 792,-78, 851,-76, 887,-72,
    659,-77, 664,-81, 683,-80, 706,-85, 694,-86, 826,-84, 629,-89, 643,-88, 645,-89, 649,-93, 668,-91, 682,-90, 689,-94,
    726,-91, 776,-92, 826,-93, 831,-94, 845,-95, 635,-96,
]

# crowded part next to the steep branch and around the bump, estimated by eye
alma_dense = [
    138,488, 128,464, 151,464, 143,444, 125,428, 138,422, 155,418, 131,398, 146,388, 160,382, 127,366, 140,355, 152,341,
    165,349, 135,333, 146,336, 157,322, 168,310, 141,300, 153,296, 164,298, 134,280, 149,268, 163,278, 176,272, 144,254,
    156,246, 168,258, 180,250, 189,240, 152,236, 163,228, 176,216, 185,231, 194,221, 158,214, 170,208, 181,214, 192,196,
    165,196, 176,192, 183,182, 196,186, 205,198, 172,174, 181,168, 193,164, 203,174, 214,178, 178,158, 190,148, 200,158,
    210,162, 221,166, 183,143, 195,140, 206,146, 218,150, 228,157, 235,168, 192,128, 205,124, 216,138, 225,134, 237,128,
    247,150, 196,108, 208,112, 219,124, 232,146,
    245,172, 252,160, 258,188, 266,176, 271,154, 279,166, 284,188, 290,172, 293,156, 298,200, 301,180, 305,166, 310,152,
    313,194, 316,176, 318,206, 322,162, 325,188, 327,214, 330,178, 332,156, 335,200, 337,170, 340,186, 343,212, 345,160,
    346,176, 348,200, 350,172, 352,148, 352,190, 354,166, 355,208, 357,178, 358,152, 360,196, 361,170, 362,218, 364,186,
    365,160, 366,200, 368,174, 369,150, 370,188, 371,212, 373,166, 374,196, 376,156, 377,180, 378,206, 380,168, 381,146,
    382,192, 384,176, 385,220, 386,160, 388,202, 389,150, 390,186, 392,168, 393,208, 395,178, 396,158, 398,192, 399,212,
    401,170, 403,148, 404,196, 406,182, 408,160, 409,216, 411,174, 413,198, 414,150, 416,186, 418,166, 419,206, 421,178,
    423,156, 424,192, 426,210, 428,168, 429,146, 431,180, 433,200, 435,158, 436,172, 438,190, 440,150, 442,166, 444,204,
    446,178, 448,156, 450,192, 453,172, 455,148, 457,182, 459,164, 462,194, 464,156, 467,176, 470,150, 473,168, 476,146,
    480,158, 484,170, 488,150, 492,162, 497,148, 502,156, 508,170,
    200,112, 212,100, 225,106, 238,94, 248,82, 256,98, 268,112, 275,85, 283,104, 290,68, 300,94, 306,58, 310,108, 315,88,
    325,98, 328,112, 332,62, 338,104, 345,96, 350,110, 355,82, 360,104, 375,118, 382,98, 390,104, 400,114, 408,92, 415,84,
    425,118, 435,108, 448,84, 452,112, 465,122, 475,94, 510,96, 522,112, 206,72, 216,58, 232,46, 245,68, 252,36, 258,48,
    270,62, 280,30, 285,22, 300,40, 305,18, 318,32, 325,44, 360,60, 370,20, 345,48, 390,60, 405,30, 425,30, 440,35, 204,42,
    215,36, 222,8, 235,22, 248,30, 260,10, 270,2, 282,-2, 298,-12, 315,-18, 320,-8, 340,-10, 352,8, 390,-20, 400,2, 436,4,
]

alma_far = [
    1078,205, 1179,208, 978,197, 971,193, 1172,189, 970,174, 1013,174, 969,162, 981,163, 1014,163, 1038,165, 1080,162,
    1035,156, 1183,156, 1036,146, 1090,144, 957,140, 1031,140, 1114,140, 1181,138, 1105,137, 951,133, 1034,134, 1031,128,
    1171,128, 1178,129, 1061,125, 983,124, 1092,123, 1167,119, 1031,116, 1037,114, 1096,116, 1137,113, 950,111, 1013,111,
    1105,109, 1140,109, 943,108, 1086,107, 1133,104, 1179,104, 983,104, 1034,103, 1046,102, 1023,100, 1089,102, 1045,95,
    1064,94, 953,94, 1033,92, 1090,92, 1110,90, 1139,90, 983,90, 1031,88, 1093,86, 951,86, 960,83, 1133,84, 1091,80,
    951,78, 1062,77, 1133,73, 1105,71, 1091,71, 1168,70, 1112,67, 1045,67, 1179,63, 1088,65, 941,65, 978,66, 962,62,
    1022,64, 1025,61, 1110,60, 1014,60, 963,58, 985,58, 1071,56, 1084,56, 979,51, 951,50, 1035,50, 968,47, 1175,48,
    1070,44, 1029,40, 1031,37, 1114,37, 1150,36, 1091,31, 1088,28, 1098,28, 1133,28, 1023,23, 1068,22, 962,18, 963,14,
    1063,14, 1070,13, 1076,12, 1110,12, 947,9, 1022,6, 1057,6, 968,-4, 1021,-7, 1057,-9, 1057,-15, 962,-13, 941,-14,
    1111,-15, 1146,-17, 968,-18, 940,-19, 1149,-20, 1149,-24, 1057,-24, 1110,-26, 941,-27, 1030,-33, 1143,-33, 939,-34,
    948,-36, 960,-41, 1151,-43, 950,-46, 968,-51, 1069,-51, 1024,-53, 946,-57, 963,-57, 1026,-59, 1030,-64, 1023,-65,
    1069,-64, 1074,-68, 1001,-68, 1023,-75, 1001,-86, 1032,-89, 1024,-96,
    1257,142, 1316,142, 1313,130, 1296,124, 1370,130, 1394,128, 1282,117, 1255,109, 1349,109, 1353,108, 1365,173, 1351,164,
    1399,100, 1371,97, 1314,91, 1313,86, 1249,84, 1257,83, 1372,89, 1403,84, 1394,82, 1301,77, 1282,74, 1369,77, 1369,74,
    1387,75, 1367,70, 1349,68, 1298,61, 1317,59, 1389,62, 1314,55, 1255,56, 1250,52, 1305,51, 1354,52, 1246,38, 1293,35,
    1316,36, 1312,35, 1391,30, 1291,28, 1305,22, 1301,19, 1282,18, 1282,14, 1328,20, 1354,17, 1353,14, 1397,10, 1399,6,
    1365,-7, 1364,-12, 1245,-14, 1321,-30, 1317,-54, 1319,-91, 1359,-96, 1401,-2,
    1446,205, 1468,220, 1463,177, 1466,172, 1489,153, 1461,149, 1452,144, 1485,145, 1602,144, 1475,133, 1488,130, 1560,128,
    1557,121, 1487,121, 1466,121, 1464,119, 1472,115, 1507,115, 1525,118, 1465,111, 1654,189, 1671,128, 1656,118, 1486,108,
    1606,106, 1486,102, 1490,102, 1519,104, 1530,104, 1482,94, 1549,93, 1570,94, 1607,94, 1456,89, 1466,85, 1487,86, 1489,85,
    1509,86, 1546,84, 1568,84, 1462,78, 1517,78, 1527,77, 1581,78, 1577,77, 1571,73, 1604,77, 1661,73, 1490,66, 1470,62,
    1446,62, 1505,62, 1528,60, 1552,59, 1509,57, 1463,56, 1652,58, 1669,51, 1544,52, 1450,49, 1528,51, 1530,48, 1524,47,
    1569,50, 1485,47, 1477,44, 1488,45, 1657,44, 1474,39, 1482,36, 1492,32, 1580,36, 1576,29, 1454,28, 1671,32, 1525,24,
    1548,20, 1646,23, 1670,18, 1465,16, 1515,8, 1660,9, 1669,6, 1446,-5, 1668,-6, 1519,-8, 1578,-19, 1648,-20, 1677,-15,
    1446,-21, 1485,-41, 1446,-61, 1450,-67, 1451,-71, 1447,-75, 1477,-74, 1830,65, 1832,59, 1830,57, 1775,51, 1771,-29,
    1772,-23, 1776,-24, 1832,4, 1870,485, 1870,447, 1870,400,
]

# synthetic model, same units
model_curve = [
    17,985, 20,982, 24,966, 28,962, 31,946, 33,945, 42,905, 44,898, 47,881, 48,870, 50,858, 51,850, 53,839, 54,832,
    57,819, 58,812, 61,799, 62,795, 65,781, 65,772, 68,755, 69,750, 72,731, 73,725, 75,712, 77,703, 79,694, 80,686,
    82,676, 84,664, 85,652, 87,640, 89,620, 91,612, 93,608, 94,598, 97,572, 98,565, 100,548, 102,538, 103,528, 106,516,
    105,495, 107,480, 109,470, 111,460, 113,444, 115,430, 117,416, 120,405, 122,396, 121,372, 124,362, 128,351, 130,340,
    133,339, 130,323, 132,318, 134,310, 136,303, 137,290, 138,275, 141,259, 144,252, 146,249, 146,229, 149,220, 151,212,
    153,202, 155,190, 157,182, 159,168, 161,154, 163,148, 165,140, 167,130, 169,122, 171,115, 173,106, 175,98, 178,80,
    180,72, 181,68, 183,60, 186,55, 188,50, 191,48, 192,40, 195,35, 197,32, 200,30, 202,24, 205,18, 207,14, 210,8, 213,5,
    216,3, 220,1, 225,0, 230,0, 235,1, 240,3, 244,5, 248,9, 252,14, 256,18, 260,23, 264,28, 268,34, 272,40, 276,45, 280,49,
    284,54, 288,58, 292,62, 296,68, 300,72, 305,75, 310,78, 315,82, 320,85, 325,87, 330,88, 335,90, 340,91, 345,92, 352,92,
    358,92, 364,91, 370,90, 375,88, 380,85, 385,82, 390,78, 396,74, 402,70, 408,65, 414,60, 420,54, 426,52, 432,46, 438,41,
    442,38, 448,32, 454,27, 460,20, 464,16, 468,14, 472,11, 476,9, 480,6, 485,5, 490,3, 495,2, 500,1, 505,1, 510,0, 515,0,
    520,0, 526,0, 532,0, 538,0, 544,1, 550,1, 556,2, 562,3, 568,5, 574,6, 580,7, 586,8, 592,8, 600,8, 607,9, 614,10, 620,10,
    627,10, 634,10, 641,10, 648,10, 655,10, 660,9, 667,9, 674,8, 680,8, 685,8, 692,7, 700,6, 708,5, 716,5, 724,4, 732,4,
    738,3, 746,2, 754,2, 762,1, 770,1, 778,1,
]

# the model points spread around the curve on both sides of the bump
model_band = [
    190,67, 193,58, 194,53, 196,44, 202,34, 196,28, 196,22, 206,25, 209,18, 206,11, 215,10, 210,7, 219,3, 227,0, 239,0, 250,3,
    245,8, 253,15, 261,21, 269,18, 270,25, 269,32, 277,38, 282,31, 289,39, 280,47, 296,47, 290,57, 302,54, 297,64, 312,61,
    302,72, 318,70, 310,78, 326,77, 320,85, 332,82, 332,90, 344,91, 351,89, 367,91, 377,89, 385,87, 377,82, 395,82, 388,74,
    404,75, 396,65, 415,69, 404,59, 426,62, 412,54, 432,56, 420,48, 432,49, 442,50, 426,39, 444,43, 452,39, 462,34, 469,29,
    439,30, 447,23, 458,26, 469,21, 452,18, 463,12, 479,19, 491,15, 497,12, 479,8, 487,2, 477,4, 505,8, 517,5, 533,2, 546,3,
    565,8, 584,10, 592,11, 605,8, 623,10, 636,10, 628,6, 658,10, 677,8, 690,6, 709,3, 730,3,
]

# long baselines where the model sits on zero
model_flat_uv = [
    784, 792, 800, 808, 816, 824, 832, 840, 848, 856, 864, 872, 880, 888, 896, 904, 912, 920, 928, 937, 944, 952, 960, 968,
    976, 984, 990, 1000, 1011, 1018, 1026, 1034, 1042, 1056, 1064, 1072, 1080, 1088, 1096, 1104, 1112, 1118, 1132, 1140,
    1148, 1153, 1167, 1174, 1180, 1185, 1248, 1254, 1258, 1282, 1293, 1300, 1307, 1314, 1322, 1331, 1349, 1357, 1365,
    1373, 1390, 1397, 1404, 1446, 1454, 1462, 1470, 1478, 1486, 1495, 1505, 1512, 1520, 1527, 1533, 1544, 1552, 1561,
    1568, 1577, 1586, 1605, 1647, 1655, 1663, 1672, 1680, 1774, 1831, 1866,
]

xy_ticks = [-100, -75, -50, -25, 0, 25, 50, 75, 100]
cbar_ticks = [0, 5, 10, 15, 20, 25, 30]

tb_grid = np.zeros((82, 82))
for row, col, vals in tb_segments:
    tb_grid[row, col:col + len(vals)] = vals

alma = np.array(alma_steep + alma_upper + alma_low_a + alma_low_b + alma_dense + alma_far).reshape(-1, 2) / 1000
curve = np.array(model_curve + model_band).reshape(-1, 2) / 1000
flat = np.array(model_flat_uv) / 1000
model_uv = np.concatenate([curve[:, 0], flat])
model_vis = np.concatenate([curve[:, 1], np.zeros(len(flat))])

fig = plt.figure(figsize=(16, 8), dpi=500)
ax_img = fig.add_axes([408 / 8000, 1 - 3592 / 4000, 3179 / 8000, 3184 / 4000])
cax = fig.add_axes([3725 / 8000, 1 - 3598 / 4000, 163 / 8000, 3200 / 4000])
ax_vis = fig.add_axes([4370 / 8000, 1 - 3713 / 4000, 3478 / 8000, 3425 / 4000])

# left panel
sns.heatmap(tb_grid, ax=ax_img, cbar_ax=cax, cmap="viridis", vmin=0, vmax=30.9,
            xticklabels=False, yticklabels=False, cbar_kws={"ticks": cbar_ticks})
tick_pos = [(v + 100) / 200 * 82 for v in xy_ticks]
ax_img.set_xticks(tick_pos)
ax_img.set_xticklabels([str(v).replace("-", "\u2212") for v in xy_ticks])
ax_img.set_yticks(tick_pos)
ax_img.set_yticklabels([str(-v).replace("-", "\u2212") for v in xy_ticks], rotation=0)
for spine in ax_img.spines.values():
    spine.set_visible(True)
cbar = ax_img.collections[0].colorbar
cbar.outline.set_linewidth(0.8)
cbar.outline.set_edgecolor("black")
ax_img.set_xlabel("X (au)")
ax_img.set_ylabel("Y (au)")
ax_img.set_title("Synthetic shellspec image\nBrightness Temperature (K)", multialignment="left", x=0.505, pad=5.3)

# right panel
sns.scatterplot(x=alma[:, 0], y=alma[:, 1], ax=ax_vis, marker=".", s=4, color="k", alpha=0.5,
                linewidth=1, edgecolor="k", label="ALMA Band 7")
sns.scatterplot(x=model_uv, y=model_vis, ax=ax_vis, marker=".", s=20, color="red",
                linewidth=1, edgecolor="red", label="synthetic")
ax_vis.set_xlim(0, 2)
ax_vis.set_ylim(-0.1, 1.1)
ax_vis.set_xticks([0, 0.25, 0.5, 0.75, 1, 1.25, 1.5, 1.75, 2])
ax_vis.set_xlabel(r"UV distance ($M\lambda$)")
ax_vis.set_ylabel(r"Visibility $V^2$")
ax_vis.set_title("Interferometric visibilities\n" + r"$\chi^2 =$ 1.972e+04", x=0.503, pad=5.3)
ax_vis.legend(loc="upper right")

fig.savefig("out.png", dpi=500)
